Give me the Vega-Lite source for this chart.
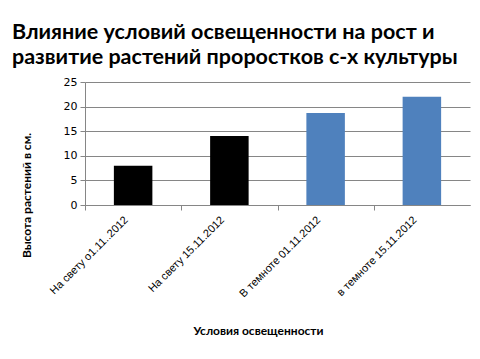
{
  "$schema": "https://vega.github.io/schema/vega-lite/v6.json",
  "width": 385,
  "height": 123,
  "autosize": {"type": "none"},
  "padding": {"left": 85, "top": 82, "right": 10, "bottom": 154},
  "background": "white",
  "title": {
    "text": ["Влияние условий освещенности на рост и", "развитие растений проростков с-х культуры"],
    "anchor": "start",
    "frame": "group",
    "dx": -73,
    "offset": 8,
    "font": "Lato",
    "fontSize": 21.5,
    "fontWeight": "bold",
    "color": "#000000",
    "lineHeight": 25
  },
  "data": {
    "values": [
      {"cat": "На свету о1.11..2012", "value": 8, "group": "light"},
      {"cat": "На свету 15.11.2012", "value": 14, "group": "light"},
      {"cat": "В темноте 01.11.2012", "value": 18.7, "group": "dark"},
      {"cat": "в темноте 15.11.2012", "value": 22, "group": "dark"}
    ]
  },
  "mark": {"type": "bar"},
  "encoding": {
    "x": {
      "field": "cat",
      "type": "nominal",
      "sort": null,
      "scale": {"paddingInner": 0.6, "paddingOuter": 0.3},
      "axis": {
        "title": "Условия освещенности",
        "titleFont": "Lato",
        "titleFontSize": 12,
        "titleFontWeight": "bold",
        "titleColor": "#000000",
        "titlePadding": 27,
        "titleX": 173,
        "titleAlign": "center",
        "labelAngle": -45,
        "labelAlign": "right",
        "labelBaseline": "middle",
        "labelFont": "Liberation Sans",
        "labelFontSize": 11,
        "labelColor": "#000000",
        "labelPadding": 8,
        "tickOffset": -48.125,
        "labelOffset": 41,
        "tickSize": 5,
        "tickColor": "#868686",
        "domainColor": "#868686",
        "grid": false
      }
    },
    "y": {
      "field": "value",
      "type": "quantitative",
      "scale": {"domain": [0, 25]},
      "axis": {
        "values": [0, 5, 10, 15, 20, 25],
        "title": "Высота растений в  см.",
        "titleFont": "Lato",
        "titleFontSize": 12,
        "titleFontWeight": "bold",
        "titleColor": "#000000",
        "titlePadding": 30,
        "titleY": 113,
        "titleAlign": "center",
        "labelFont": "DejaVu Sans",
        "labelFontSize": 11,
        "labelColor": "#000000",
        "labelPadding": 3,
        "tickSize": 5,
        "tickColor": "#868686",
        "domainColor": "#868686",
        "gridColor": "#868686",
        "gridOpacity": 1
      }
    },
    "color": {
      "field": "group",
      "type": "nominal",
      "scale": {"domain": ["light", "dark"], "range": ["#000000", "#4F81BD"]},
      "legend": null
    }
  },
  "config": {"view": {"stroke": null}}
}
